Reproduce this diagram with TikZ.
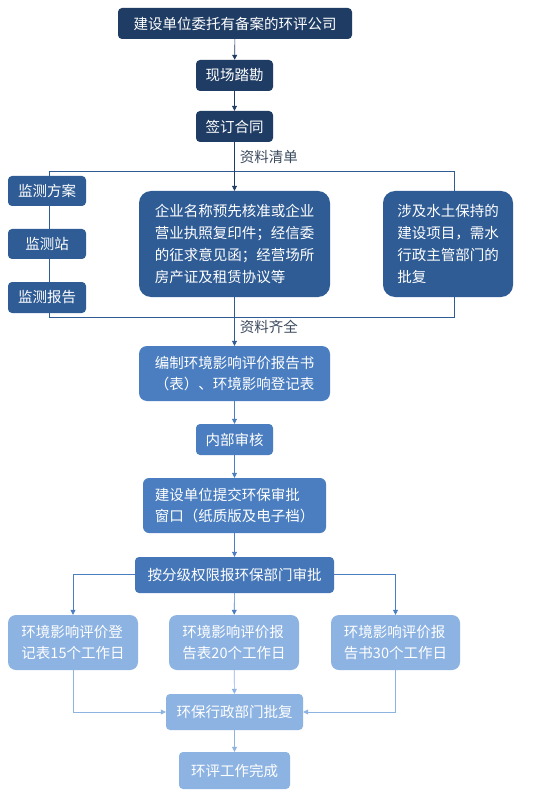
\documentclass[tikz,border=0pt]{standalone}
\usepackage{fontspec}
\setmainfont{Noto Sans CJK SC}
\usetikzlibrary{arrows.meta}
\definecolor{navy}{HTML}{1F3C64}
\definecolor{midblue}{HTML}{2F5C95}
\definecolor{stepblue}{HTML}{4A7EC0}
\definecolor{gradeblue}{HTML}{4576B8}
\definecolor{paleblue}{HTML}{8DB3E2}
\definecolor{labelgray}{HTML}{3B4A5E}

\begin{document}
\begin{tikzpicture}[x=1pt,y=-1pt,
	box/.style={rounded corners=4pt,text=white,inner sep=0pt,font=\fontsize{14.5}{21.7}\selectfont},
	bigbox/.style={box,rounded corners=12pt,align=left},
	link/.style={-{Triangle[width=5pt,length=5pt]},line width=0.6pt},
	lbl/.style={anchor=west,text=labelgray,inner sep=0pt,font=\fontsize{14.5}{17}\selectfont}]
	\useasboundingbox[fill=white] (0,0) rectangle (543,799);
	% frame round the list of documents
	\draw[midblue,line width=0.6pt] (49,171) rectangle (454,317);
	% top of the flow
	\node[box,fill=navy,minimum width=234,minimum height=31] (entrust) at (235,23.5) {建设单位委托有备案的环评公司};
	\node[box,fill=navy,minimum width=77,minimum height=31] (survey) at (234.5,75.5) {现场踏勘};
	\node[box,fill=navy,minimum width=77,minimum height=31] (contract) at (234.5,126.5) {签订合同};
	% documents needed
	\node[box,fill=midblue,minimum width=78,minimum height=30] (plan) at (47,191) {监测方案};
	\node[box,fill=midblue,minimum width=78,minimum height=30] (station) at (47,244) {监测站};
	\node[box,fill=midblue,minimum width=78,minimum height=31] (report) at (47,297.5) {监测报告};
	\node[bigbox,fill=midblue,minimum width=191,minimum height=106] (docs) at (234.5,244) {企业名称预先核准或企业\\营业执照复印件；经信委\\的征求意见函；经营场所\\房产证及租赁协议等};
	\node[bigbox,fill=midblue,minimum width=130,minimum height=106] (water) at (448,244) {涉及水土保持的\\建设项目，需水\\行政主管部门的\\批复};
	% drafting and approval
	\node[box,fill=stepblue,rounded corners=8pt,align=left,minimum width=191,minimum height=55] (draft) at (234.5,373.5) {编制环境影响评价报告书\\（表）、环境影响登记表};
	\node[box,fill=stepblue,minimum width=77,minimum height=31] (audit) at (234.5,439.5) {内部审核};
	\node[box,fill=stepblue,rounded corners=6pt,align=left,minimum width=183,minimum height=55] (submit) at (234.5,505.5) {建设单位提交环保审批\\窗口（纸质版及电子档）};
	\node[box,fill=gradeblue,minimum width=199,minimum height=36] (grade) at (234.5,575) {按分级权限报环保部门审批};
	\node[box,fill=paleblue,rounded corners=8pt,align=left,minimum width=130,minimum height=55] (form) at (73,642.5) {环境影响评价登\\记表15个工作日};
	\node[box,fill=paleblue,rounded corners=8pt,align=left,minimum width=130,minimum height=55] (table) at (234,642.5) {环境影响评价报\\告表20个工作日};
	\node[box,fill=paleblue,rounded corners=8pt,align=left,minimum width=129,minimum height=55] (book) at (395.5,642.5) {环境影响评价报\\告书30个工作日};
	\node[box,fill=paleblue,minimum width=137,minimum height=36] (reply) at (234.5,712) {环保行政部门批复};
	\node[box,fill=paleblue,minimum width=111,minimum height=37] (done) at (234.5,770.5) {环评工作完成};
	% connectors
	\draw[link,navy] (entrust) -- (survey);
	\draw[link,navy] (survey) -- (contract);
	\draw[link,navy] (contract) -- (docs) node[lbl,pos=0.3,xshift=5pt] {资料清单};
	\draw[link,midblue] (docs) -- (draft) node[lbl,pos=0.62,xshift=5pt] {资料齐全};
	\draw[link,stepblue] (draft) -- (audit);
	\draw[link,stepblue] (audit) -- (submit);
	\draw[link,stepblue] (submit) -- (grade);
	\draw[link,stepblue] (grade.west) ++(0,-1) -| (form.north);
	\draw[link,stepblue] (grade) -- (table);
	\draw[link,stepblue] (grade.east) ++(0,-1) -| (book.north);
	\draw[link,paleblue] (form.south) |- (reply.west);
	\draw[link,paleblue] (table) -- (reply);
	\draw[link,paleblue] (book.south) |- (reply.east);
	\draw[link,paleblue] (reply) -- (done);
\end{tikzpicture}
\end{document}
